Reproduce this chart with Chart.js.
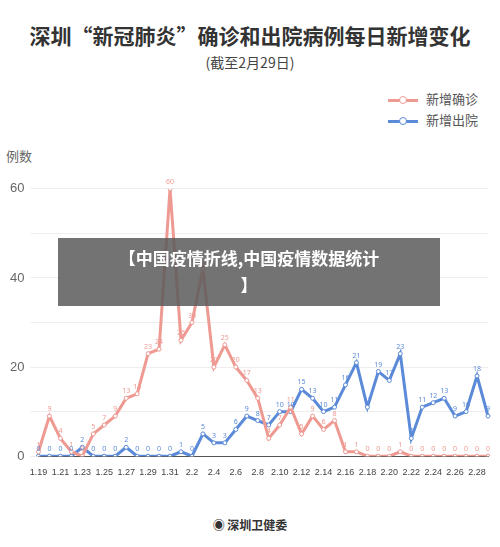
<!DOCTYPE html>
<html><head><meta charset="utf-8">
<script src="https://cdn.jsdelivr.net/npm/chart.js@4.4.0/dist/chart.umd.min.js"></script>
<style>
body{margin:0;width:500px;height:547px;background:#fff;font-family:"Noto Sans CJK SC","Noto Sans",sans-serif;position:relative;overflow:hidden}
#title{position:absolute;top:20px;left:0;width:500px;text-align:center;font-size:21px;font-weight:bold;color:#333}
#sub{position:absolute;top:52px;left:0;width:500px;text-align:center;font-size:14px;color:#444}
#unit{position:absolute;top:146px;left:6px;font-size:13px;color:#666}
.lg{position:absolute;left:388px;font-size:13px;color:#555}
.lg span{display:inline-block;width:30px;height:3px;vertical-align:middle;margin-right:8px;position:relative}
.lg span i{position:absolute;left:11px;top:-3px;width:6px;height:6px;border-radius:50%;background:#fff;border:1px solid}
#wrap{position:absolute;top:175px;left:0;width:500px;height:306px}
#banner{position:absolute;top:238px;left:58px;width:382px;height:68px;background:rgba(90,90,90,0.85);color:#fff;font-size:17px;font-weight:bold;text-align:center;line-height:27px;padding-top:6px;box-sizing:border-box}
#foot{position:absolute;top:516px;left:0;width:500px;text-align:center;font-size:12px;font-weight:bold;color:#333}
</style></head><body>
<div id="title">深圳“新冠肺炎”确诊和出院病例每日新增变化</div>
<div id="sub">(截至2月29日)</div>
<div class="lg" style="top:89px"><span style="background:#ee9a92"><i style="border-color:#ee9a92"></i></span>新增确诊</div>
<div class="lg" style="top:110px"><span style="background:#5b8ad8"><i style="border-color:#5b8ad8"></i></span>新增出院</div>
<div id="unit">例数</div>
<div id="wrap"><canvas id="c"></canvas></div>
<div id="banner">【中国疫情折线,中国疫情数据统计<br>】</div>
<div id="foot">◉ 深圳卫健委</div>
<script>
// ─── DATA ─────────────────────────────────────────
const DATES = ['1.19','1.20','1.21','1.22','1.23','1.24','1.25','1.26','1.27','1.28','1.29','1.30','1.31',
  '2.1','2.2','2.3','2.4','2.5','2.6','2.7','2.8','2.9','2.10','2.11','2.12','2.13','2.14','2.15','2.16',
  '2.17','2.18','2.19','2.20','2.21','2.22','2.23','2.24','2.25','2.26','2.27','2.28','2.29'];
const CONFIRMED = [1,9,4,1,0,5,7,9,13,14,23,24,60,
  26,30,42,20,25,20,17,13,4,7,11,5,9,6,8,1,1,0,0,0,1,0,0,0,0,0,0,0,0];
const DISCHARGED = [0,0,0,0,2,0,0,0,2,0,0,0,0,
  1,0,5,3,3,6,9,8,7,10,10,15,13,10,11,16,21,11,19,17,23,4,11,12,13,9,10,18,9];
const Y_TICKS = [0,10,20,30,40,50,60];
const RED = '#ee9a92', BLUE = '#5b8ad8';

// draws the value over each point
const valueLabels = {
  id: 'valueLabels',
  afterDatasetsDraw(chart) {
    const ctx = chart.ctx;
    ctx.save();
    ctx.font = '7px "Noto Sans"';
    ctx.textAlign = 'center';
    chart.data.datasets.forEach((ds, i) => {
      ctx.fillStyle = ds.borderColor;
      chart.getDatasetMeta(i).data.forEach((pt, j) => {
        ctx.fillText(ds.data[j], pt.x, pt.y - 5);
      });
    });
    ctx.restore();
  }
};

new Chart(document.getElementById('c'), {
  type: 'line',
  data: {
    labels: DATES,
    datasets: [
      { label: '新增确诊', data: CONFIRMED, borderColor: RED, backgroundColor: '#fff',
        borderWidth: 3, pointRadius: 2, pointBorderWidth: 1, tension: 0 },
      { label: '新增出院', data: DISCHARGED, borderColor: BLUE, backgroundColor: '#fff',
        borderWidth: 3, pointRadius: 2, pointBorderWidth: 1, tension: 0 },
    ],
  },
  options: {
    responsive: true, maintainAspectRatio: false, animation: false,
    layout: { padding: { left: 4, right: 12, top: 4, bottom: 0 } },
    plugins: { legend: { display: false }, tooltip: { enabled: false } },
    scales: {
      x: {
        offset: false,
        grid: { display: false },
        border: { color: '#555' },
        ticks: { color: '#444', font: { size: 9 }, maxRotation: 0, autoSkip: false,
          callback: (v, i) => i % 2 === 0 ? DATES[i] : '' },
      },
      y: {
        min: 0, max: 60,
        border: { display: false },
        grid: { color: '#eee' },
        afterBuildTicks: s => { s.ticks = Y_TICKS.map(v => ({ value: v })); },
        ticks: { color: '#666', font: { size: 13 }, padding: 6, callback: v => v % 20 === 0 ? v : '' },
      },
    },
  },
  plugins: [valueLabels],
});
</script>
</body></html>
